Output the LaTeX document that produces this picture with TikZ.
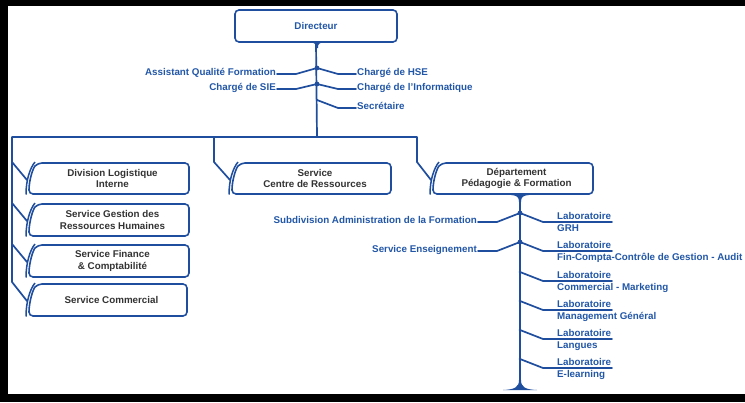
\documentclass[tikz,border=0pt]{standalone}
\usepackage{fontspec}
\setmainfont{Liberation Sans}
\definecolor{orgblue}{HTML}{1F4E9E}
\definecolor{lblblue}{HTML}{2257A8}
\definecolor{boxtext}{HTML}{333333}
\tikzset{
  link/.style={draw=orgblue, line width=1.7pt, line join=round, line cap=round},
  lbl/.style={text=lblblue, font=\fontsize{9.8}{12}\selectfont\bfseries, inner sep=0pt},
  boxtxt/.style={text=boxtext, font=\fontsize{9.8}{11.5}\selectfont\bfseries, align=center, inner sep=0pt},
  frame/.style={draw=orgblue, line width=1.6pt, fill=white},
}
% box with a doubled, curved left edge: name, x1, y1, x2, y2, text
\newcommand\orgbox[6]{%
  \draw[frame, rounded corners=4pt] ({#2+3},#5) .. controls ({#2+3},{#5-14}) and ({#2+7},{#3+5}) .. ({#2+12},#3)
     -- (#4,#3) -- (#4,#5) -- cycle;
  \draw[orgblue, line width=1.5pt] (#2,{#5+0.5}) .. controls (#2,{#5-14}) and ({#2+4},{#3+5}) .. ({#2+9},{#3-1});
  \node[boxtxt] (#1) at ({(#2+#4)/2+5},{(#3+#5)/2}) {#6};
  \coordinate (#1-in) at ({#2+1},{#3+17});
}
\begin{document}
\begin{tikzpicture}[x=1pt,y=-1pt]
\useasboundingbox (0,0) rectangle (745,402);
\fill[black] (0,0) rectangle (745,402);
\fill[white] (8,6) rectangle (745,394);

% top level
\node[draw=orgblue, line width=1.6pt, rounded corners=4pt, minimum width=162pt,
      minimum height=32pt, lbl] (dir) at (316,26) {Directeur};
\coordinate (t1) at (317,68);
\coordinate (t2) at (317,84);
\coordinate (t3) at (317,100);
\coordinate (barM) at (317,137);
\coordinate (barL) at (12,137);
\coordinate (barR) at (417,137);

\draw[link] (dir.south) -- (barM);
\fill[orgblue] (311,42.5) .. controls (315,43) and (316,44) .. (316,48) -- (318,48)
   .. controls (318,44) and (319,43) .. (323,42.5) -- cycle;

% staff positions
\node[lbl, anchor=base east] (aqf) at (276,75) {Assistant Qualité Formation};
\node[lbl, anchor=base east] (sie) at (276,90) {Chargé de SIE};
\node[lbl, anchor=base west] (hse) at (357,75) {Chargé de HSE};
\node[lbl, anchor=base west] (info) at (357,90) {Chargé de l'Informatique};
\node[lbl, anchor=base west] (secr) at (357,109) {Secrétaire};

\draw[link] ([xshift=1pt,yshift=1pt]aqf.base east) -- (296,74) -- (t1) -- (338,74) -- ([xshift=-1pt,yshift=1pt]hse.base west);
\draw[link] ([xshift=1pt,yshift=1pt]sie.base east) -- (296,89) -- (t2) -- (338,89) -- ([xshift=-1pt,yshift=1pt]info.base west);
\draw[link] (t3) -- (338,108) -- ([xshift=-1pt,yshift=1pt]secr.base west);
\fill[orgblue] (t1) circle[radius=2.4pt] (t2) circle[radius=2.4pt] (t3) circle[radius=1.4pt];

% second level boxes
\orgbox{dli}{26}{163}{189}{194}{Division Logistique\\Interne}
\orgbox{grh}{26}{204}{189}{236}{Service Gestion des\\Ressources Humaines}
\orgbox{fin}{26}{245}{189}{277}{Service Finance\\\& Comptabilité}
\orgbox{com}{26}{284}{187}{316}{Service Commercial}
\orgbox{scr}{229}{163}{391}{194}{Service\\Centre de Ressources}
\orgbox{dpf}{430}{163}{593}{194}{Département\\Pédagogie \& Formation}

\draw[link] (417,162) -- (barR) -- (barL) -- (12,282) -- (com-in);
\draw[link] (417,162) -- (dpf-in);
\draw[link] (214,137) -- (214,162) -- (scr-in);
\draw[link] (12,162) -- (dli-in);
\draw[link] (12,203) -- (grh-in);
\draw[link] (12,244) -- (fin-in);

% department branch
\coordinate (dtop) at (520,194);
\coordinate (dbot) at (520,389);
\draw[link] (dtop) -- (dbot);
\fill[orgblue] (511,195) .. controls (517,195.5) and (519,197) .. (519,202) -- (521,202)
   .. controls (521,197) and (523,195.5) .. (529,195) -- cycle;
\fill[orgblue] (503,390) .. controls (515,389.5) and (519,387) .. (519,380) -- (521,380)
   .. controls (521,387) and (525,389.5) .. (537,390) -- cycle;

\node[lbl, anchor=base east] (sub) at (477,223) {Subdivision Administration de la Formation};
\node[lbl, anchor=base east] (ens) at (477,252) {Service Enseignement};

\foreach \k/\j/\second in {1/213/GRH, 2/242/{Fin-Compta-Contrôle de Gestion - Audit},
    3/272/{Commercial - Marketing}, 4/301/{Management Général}, 5/330/Langues, 6/359/E-learning}{
  \coordinate (j\k) at (520,\j);
  \node[lbl, anchor=base west] (lab\k) at (557,{\j+6.5}) {Laboratoire};
  \node[lbl, anchor=base west] (lab\k b) at (557,{\j+18.5}) {\second};
  \draw[link] (j\k) -- (543,{\j+9}) -- (612,{\j+9});
  \fill[orgblue] (j\k) circle[radius=1.4pt];
}
\draw[link] ([xshift=1pt,yshift=1pt]sub.base east) -- (497,222) -- (j1);
\draw[link] ([xshift=1pt,yshift=1pt]ens.base east) -- (497,251) -- (j2);
\fill[orgblue] (j1) circle[radius=2.4pt] (j2) circle[radius=2.4pt];
\end{tikzpicture}
\end{document}
